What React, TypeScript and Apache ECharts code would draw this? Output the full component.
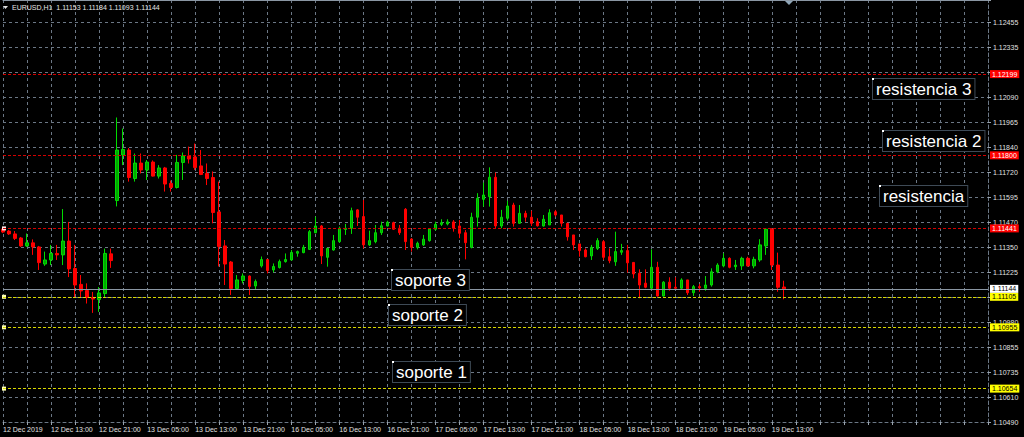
import React, { useEffect, useRef } from 'react';
import * as echarts from 'echarts';

// ---- data (EURUSD H1) ----
const openP = [1.11438,1.11428,1.11414,1.11394,1.11355,1.1137,1.1135,1.11266,1.11286,1.11318,1.11311,1.11379,1.11244,1.11166,1.11136,1.11102,1.11092,1.11121,1.11316,1.11578,1.11802,1.11826,1.11686,1.11762,1.11728,1.11767,1.11698,1.11738,1.11662,1.11642,1.11765,1.11797,1.11792,1.11748,1.11711,1.11691,1.11522,1.11355,1.11276,1.11146,1.11185,1.11207,1.11158,1.11257,1.11288,1.11237,1.11249,1.11278,1.11286,1.11319,1.11322,1.11338,1.1142,1.11453,1.11299,1.11335,1.11376,1.11436,1.11442,1.11532,1.11499,1.1136,1.11376,1.1142,1.11453,1.11469,1.11442,1.11535,1.11389,1.11348,1.1136,1.11381,1.11437,1.11461,1.11463,1.11473,1.11453,1.1142,1.11348,1.11496,1.11584,1.11597,1.11692,1.11453,1.11491,1.11556,1.11466,1.11515,1.11496,1.11474,1.11453,1.11458,1.11523,1.11507,1.11466,1.11409,1.11365,1.11335,1.11306,1.11343,1.11376,1.11302,1.11277,1.11324,1.11332,1.11274,1.11221,1.11172,1.11147,1.1125,1.11109,1.11177,1.11152,1.11147,1.11188,1.11125,1.11155,1.11147,1.11163,1.11228,1.11257,1.11294,1.11253,1.11257,1.11294,1.11257,1.11286,1.11355,1.11437,1.11261,1.11153];
const highP = [1.11448,1.11433,1.11428,1.11399,1.11416,1.11387,1.11355,1.11327,1.1136,1.1136,1.11536,1.11473,1.1136,1.11212,1.11171,1.11129,1.11153,1.11342,1.11342,1.11986,1.11932,1.11836,1.11809,1.11809,1.11777,1.11775,1.11752,1.11743,1.11676,1.11802,1.11814,1.11843,1.11858,1.11826,1.1176,1.11721,1.11671,1.11384,1.11281,1.11212,1.1122,1.1121,1.1119,1.11303,1.11291,1.11269,1.11288,1.11318,1.11335,1.11332,1.1136,1.11433,1.11499,1.11458,1.11345,1.11409,1.1145,1.11463,1.11543,1.11536,1.11581,1.1143,1.11458,1.11474,1.11479,1.11474,1.11458,1.11541,1.11394,1.11376,1.11409,1.11442,1.11474,1.11486,1.11486,1.11482,1.11482,1.11433,1.11518,1.11614,1.11666,1.11741,1.11715,1.11532,1.11577,1.11567,1.11556,1.11528,1.11528,1.11491,1.11507,1.11535,1.11532,1.11507,1.11468,1.11409,1.11365,1.11343,1.1136,1.11393,1.11384,1.11343,1.11425,1.11365,1.1136,1.11276,1.1124,1.1124,1.11338,1.11277,1.11182,1.11201,1.11201,1.11196,1.11188,1.11163,1.11168,1.11207,1.11245,1.1127,1.11319,1.11299,1.11286,1.11302,1.11302,1.11302,1.11388,1.11442,1.11442,1.11322,1.11184];
const lowP = [1.11418,1.11409,1.11384,1.1135,1.1135,1.11311,1.11237,1.11257,1.11261,1.11286,1.11261,1.11202,1.11104,1.11104,1.11072,1.11026,1.11031,1.11104,1.11247,1.11549,1.11752,1.11671,1.11671,1.11711,1.11679,1.11696,1.11686,1.11622,1.11622,1.11637,1.11679,1.1176,1.11728,1.11703,1.11654,1.11466,1.11254,1.11163,1.11114,1.11142,1.11171,1.11114,1.11139,1.11249,1.1122,1.11225,1.11244,1.11273,1.11283,1.11302,1.11319,1.11335,1.11417,1.11266,1.11253,1.11332,1.11371,1.11409,1.11414,1.11453,1.11343,1.11355,1.11368,1.11409,1.1145,1.11433,1.11409,1.11335,1.11327,1.11338,1.11355,1.11376,1.1143,1.11453,1.11456,1.11425,1.11393,1.11289,1.11343,1.1145,1.11548,1.11548,1.11442,1.11442,1.11479,1.1145,1.11463,1.11474,1.11453,1.1145,1.1145,1.11458,1.11499,1.1145,1.11381,1.11335,1.11302,1.11299,1.11286,1.11335,1.11286,1.1127,1.11257,1.11311,1.11224,1.11196,1.11098,1.11147,1.11142,1.11106,1.11106,1.11135,1.11139,1.11139,1.11114,1.11109,1.1113,1.11135,1.11155,1.11221,1.1125,1.11245,1.11237,1.11237,1.11253,1.11245,1.11277,1.11311,1.11237,1.1113,1.11093];
const closeP = [1.11423,1.11414,1.11392,1.11355,1.1137,1.1135,1.11273,1.11286,1.11318,1.11311,1.11379,1.11242,1.11163,1.11134,1.11102,1.11094,1.11124,1.11318,1.11283,1.11826,1.11829,1.11691,1.11762,1.11728,1.11767,1.11698,1.11738,1.11659,1.11642,1.11765,1.11797,1.11782,1.1174,1.11706,1.11686,1.11519,1.11352,1.11266,1.11146,1.11188,1.11207,1.11156,1.1118,1.11288,1.11234,1.11254,1.11278,1.11288,1.11323,1.11327,1.11348,1.11425,1.11453,1.11306,1.11343,1.11381,1.11442,1.11441,1.11528,1.11496,1.1136,1.11381,1.1142,1.11454,1.11471,1.11437,1.1142,1.11376,1.11348,1.11368,1.11388,1.11438,1.11461,1.11469,1.11473,1.11442,1.11417,1.11371,1.11496,1.11589,1.11605,1.11692,1.11453,1.11496,1.11551,1.11466,1.11515,1.11496,1.11466,1.11454,1.11486,1.11518,1.11507,1.11466,1.114,1.1136,1.11332,1.11302,1.11348,1.11381,1.11299,1.11282,1.11327,1.11332,1.11272,1.11217,1.11163,1.11152,1.1125,1.11109,1.11177,1.11147,1.11147,1.11188,1.11125,1.11155,1.1115,1.11163,1.11228,1.11261,1.11294,1.1125,1.11261,1.11294,1.11257,1.11289,1.1136,1.11437,1.11261,1.11152,1.11144];

const xTickLabels = ['12 Dec 2019','12 Dec 13:00','12 Dec 21:00','13 Dec 05:00','13 Dec 13:00','13 Dec 21:00','16 Dec 05:00','16 Dec 13:00','16 Dec 21:00','17 Dec 05:00','17 Dec 13:00','17 Dec 21:00','18 Dec 05:00','18 Dec 13:00','18 Dec 21:00','19 Dec 05:00','19 Dec 13:00'];
const yTickLabels = ['1.10490','1.10610','1.10735','1.10855','1.10980','1.11105','1.11225','1.11350','1.11470','1.11595','1.11720','1.11840','1.11965','1.12090','1.12215','1.12335','1.12455'];
// grid labels that the price tags fully cover in the reference
const coveredTickLabels = ['1.12215', '1.11105'];

const resistanceLevels = [1.12199, 1.118, 1.11441];
const supportLevels = [1.11105, 1.10955, 1.10654];
const bidPrice = 1.11144;
const titleText = 'EURUSD,H1  1.11153 1.11184 1.11093 1.11144';

const annotations = [
  { text: 'resistencia 3', bar: 144.9, price: 1.12175 },
  { text: 'resistencia 2', bar: 146.5, price: 1.11918 },
  { text: 'resistencia', bar: 146.1, price: 1.1165 },
  { text: 'soporte 3', bar: 64.7, price: 1.11237 },
  { text: 'soporte 2', bar: 64.2, price: 1.11065 },
  { text: 'soporte 1', bar: 65.0, price: 1.10786 },
];

const PRICE_MIN = 1.1049;
const PRICE_STEP = 0.00122813;
const GRID_STEPS = 16.88;
const SLOT_COUNT = 165;

const FONT = '"Liberation Sans", Arial, sans-serif';
const GRID_COLOR = '#6b7785';

export default function App() {
  const ref = useRef<HTMLDivElement>(null);
  useEffect(() => {
    if (!ref.current) return;
    document.body.style.margin = '0';
    document.body.style.background = '#000';
    const chart = echarts.init(ref.current, null, { renderer: 'svg' });
    const cats = Array.from({ length: SLOT_COUNT }, (_, i) => String(i));
    const candles = openP.map((o, i) => [o, closeP[i], lowP[i], highP[i]]);
    const fmt = (v: number) => Number(v).toFixed(5);

    const lineLabel = (bg: string, fg: string) => ({
      show: true,
      position: 'end',
      distance: 2,
      formatter: (p: any) => fmt(p.value),
      backgroundColor: bg,
      color: fg,
      fontSize: 7,
      fontFamily: FONT,
      padding: [1, 2, 0, 2],
    });

    const markLines: any[] = [
      ...resistanceLevels.map((v) => ({
        yAxis: v,
        lineStyle: { color: '#d40000', type: [3, 2], width: 1 },
        label: lineLabel('#ff0000', '#ffffff'),
      })),
      ...supportLevels.map((v) => ({
        yAxis: v,
        lineStyle: { color: '#d8d800', type: [3, 2], width: 1 },
        label: lineLabel('#ffff00', '#000000'),
      })),
      {
        yAxis: bidPrice,
        lineStyle: { color: '#8a96a3', type: 'solid', width: 1 },
        label: lineLabel('#ffffff', '#000000'),
      },
    ];

    const markPoints: any[] = [
      { coord: [0, resistanceLevels[2]], itemStyle: { color: '#ffe6e6' } },
      ...supportLevels.map((v) => ({ coord: [0, v], itemStyle: { color: '#ffffb0' } })),
    ];

    const option: any = {
      animation: false,
      backgroundColor: '#000000',
      grid: { left: 0, right: 36, top: 0, bottom: 15, containLabel: false },
      xAxis: [
        {
          type: 'category',
          data: cats,
          boundaryGap: false,
          axisLine: { show: true, lineStyle: { color: GRID_COLOR, type: [3, 3] } },
          axisTick: { show: true, interval: 3, length: 3, lineStyle: { color: '#9aa4ae' } },
          axisLabel: {
            show: true,
            interval: 7,
            align: 'left',
            margin: 4,
            color: '#e0e0e0',
            fontSize: 7,
            fontFamily: FONT,
            formatter: (_v: string, idx: number) => xTickLabels[idx / 8] ?? '',
          },
          splitLine: { show: true, interval: 3, lineStyle: { color: GRID_COLOR, type: [3, 3], width: 1 } },
        },
        {
          type: 'category',
          data: cats,
          boundaryGap: false,
          position: 'top',
          axisLine: { show: true, lineStyle: { color: '#8a96a3', width: 1 } },
          axisTick: { show: false },
          axisLabel: { show: false },
          splitLine: { show: false },
        },
      ],
      yAxis: [
        {
          type: 'value',
          min: PRICE_MIN,
          max: PRICE_MIN + GRID_STEPS * PRICE_STEP,
          show: false,
          scale: true,
        },
        {
          type: 'value',
          min: 0,
          max: GRID_STEPS,
          interval: 1,
          position: 'right',
          axisLine: { show: true, lineStyle: { color: GRID_COLOR, type: [3, 3] } },
          axisTick: { show: true, length: 3, lineStyle: { color: '#9aa4ae' } },
          axisLabel: {
            show: true,
            margin: 5,
            color: '#e0e0e0',
            fontSize: 7,
            fontFamily: FONT,
            formatter: (v: number) => {
              const r = Math.round(v);
              const lab = Math.abs(v - r) < 1e-6 ? yTickLabels[r] : undefined;
              return lab && !coveredTickLabels.includes(lab) ? lab : '';
            },
          },
          splitLine: { show: true, lineStyle: { color: GRID_COLOR, type: [3, 3], width: 1 } },
        },
      ],
      series: [
        {
          type: 'candlestick',
          xAxisIndex: 0,
          yAxisIndex: 0,
          data: candles,
          barWidth: 3,
          itemStyle: {
            color: '#00a800',
            color0: '#ff0000',
            borderColor: '#00dc00',
            borderColor0: '#ff0000',
            borderWidth: 1,
          },
          markLine: {
            silent: true,
            symbol: 'none',
            precision: 5,
            z: 10,
            data: markLines,
          },
          markPoint: {
            silent: true,
            symbol: 'rect',
            symbolSize: 4,
            symbolOffset: [1, 0],
            label: { show: false },
            data: markPoints,
          },
        },
      ],
    };
    chart.setOption(option);

    const toPx = (bar: number, price: number) => {
      const b0 = Math.floor(bar);
      const f = bar - b0;
      const p0 = chart.convertToPixel({ xAxisIndex: 0, yAxisIndex: 0 }, [b0, price]) as number[];
      const p1 = chart.convertToPixel({ xAxisIndex: 0, yAxisIndex: 0 }, [b0 + 1, price]) as number[];
      return [p0[0] + (p1[0] - p0[0]) * f, p0[1]];
    };

    const graphics: any[] = [];
    annotations.forEach((a) => {
      const [x, y] = toPx(a.bar, a.price);
      graphics.push({
        type: 'text',
        x: Math.round(x),
        y: Math.round(y),
        z: 100,
        style: {
          text: a.text,
          fill: '#ffffff',
          font: `17px ${FONT}`,
          backgroundColor: '#000000',
          borderColor: '#3e4a56',
          borderWidth: 1,
          padding: [2, 3, 1, 3],
        },
      });
      graphics.push({
        type: 'rect',
        z: 101,
        shape: { x: Math.round(x) - 1, y: Math.round(y) - 1, width: 2, height: 2 },
        style: { fill: '#ffffff' },
      });
    });
    graphics.push({
      type: 'polygon',
      z: 100,
      shape: { points: [[3, 6], [8, 6], [5.5, 9]] },
      style: { fill: '#e0e0e0' },
    });
    graphics.push({
      type: 'text',
      x: 12,
      y: 7.5,
      z: 100,
      style: { text: titleText, fill: '#e6e6e6', font: `7px ${FONT}`, verticalAlign: 'middle' },
    });
    graphics.push({
      type: 'polygon',
      z: 100,
      shape: { points: [[785, 1], [793, 1], [789, 5]] },
      style: { fill: '#8fa6b8' },
    });
    chart.setOption({ graphic: graphics });

    return () => chart.dispose();
  }, []);
  return (
    <div
      ref={ref}
      style={{ position: 'absolute', left: 0, top: 0, width: 1024, height: 437, background: '#000' }}
    />
  );
}
